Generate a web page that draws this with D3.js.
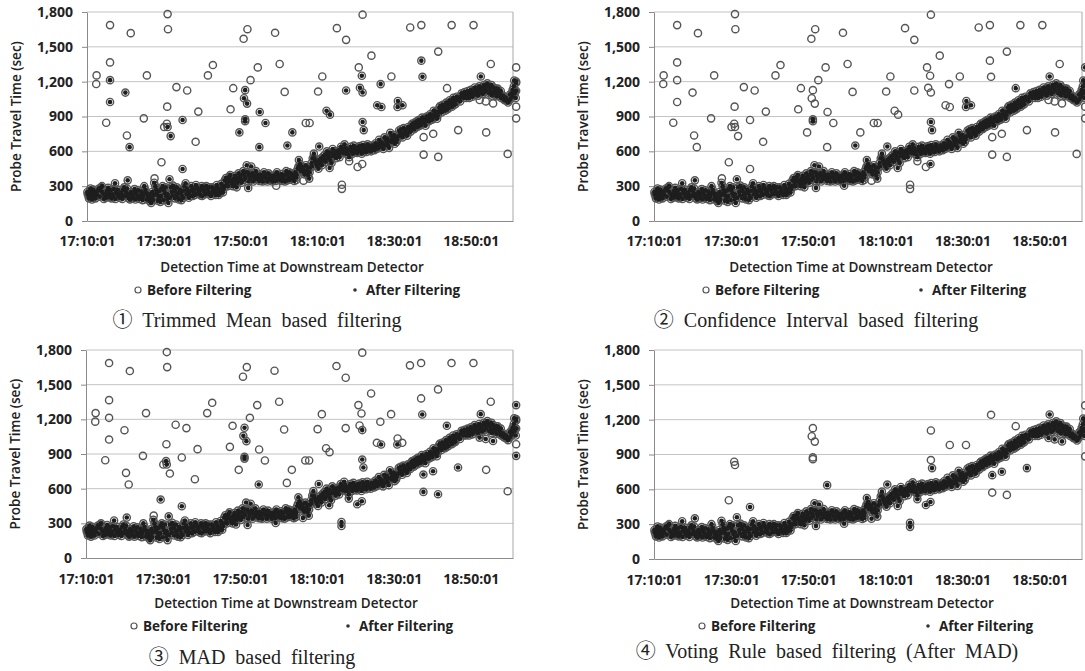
<!DOCTYPE html>
<html>
<head>
<meta charset="utf-8">
<script src="https://cdn.jsdelivr.net/npm/d3@7"></script>
<style>
body { margin: 0; background: #fff; }
text { font-family: "Open Sans", sans-serif; fill: #222; }
</style>
</head>
<body>
<svg id="main"></svg>
<script>
// x values are minutes after 17:10:01, y values are travel time in seconds
var xTickLabels = ["17:10:01", "17:30:01", "17:50:01", "18:10:01", "18:30:01", "18:50:01"];
var yTicks = [0, 300, 600, 900, 1200, 1500, 1800];
var xStart = "17:10:01", xEnd = "19:01:00";

// dense band of probe readings, kept by every filter
var band = [
  [0.2,230],[0.4,215],[0.6,245],[0.8,260],[1.0,225],[1.2,205],[1.4,240],[1.6,270],[1.8,235],[2.0,210],[2.3,250],[2.6,225],
  [3.1,280],[3.4,265],[3.7,290],[4.0,250],[4.3,235],[4.6,215],[4.9,200],[5.2,260],[5.5,285],[5.8,240],[6.1,220],[6.4,195],[6.7,230],[7.0,275],[7.3,325],
  [7.6,250],[7.9,230],[8.2,215],[8.5,200],[8.8,245],[9.1,225],[9.4,270],
  [9.7,290],[10.0,260],[10.3,240],[10.6,215],[10.9,195],[11.2,185],[10.6,350],[11.5,250],[11.8,225],[12.1,200],[12.4,275],
  [12.8,240],[13.1,220],[13.4,205],[13.7,190],[14.0,255],[14.3,230],[14.6,210],[14.9,300],[15.2,270],[15.5,240],[15.8,215],[16.1,195],[16.4,170],[16.7,155],[17.0,250],[17.3,225],
  [17.5,330],[17.8,300],[18.0,270],[18.2,245],[18.5,220],[18.8,195],[19.1,165],[19.4,280],[19.7,300],[20.0,265],[20.3,240],[20.6,215],[20.9,185],[21.2,155],[21.5,360],[21.8,290],[22.1,250],
  [22.4,305],[22.7,280],[23.0,255],[23.3,230],[23.6,205],[23.9,185],[24.2,270],[24.5,245],[24.8,215],[25.1,200],[25.4,300],[25.7,325],[26.0,280],
  [26.3,255],[26.6,235],[26.9,215],[27.2,300],[27.5,270],[27.8,250],[28.1,225],[28.4,310],[28.7,285],[29.0,260],[29.3,240],[29.6,220],[29.9,300],[30.2,280],[30.5,255],[30.8,230],
  [31.1,300],[31.4,275],[31.7,250],[32.0,230],[32.3,215],[32.6,290],[32.9,265],[33.2,245],[33.5,225],[33.8,310],[34.1,285],[34.4,260],[34.7,240],[35.0,320],[35.3,300],[35.6,275],[35.9,350],[36.2,370],
  [36.5,330],[36.8,355],[37.1,380],[37.4,345],[37.7,320],[38.0,300],[38.3,365],[38.6,390],[38.9,350],[39.0,290],[39.2,330],[39.5,410],[39.8,380],
  [40.1,360],[40.4,400],[40.7,430],[41.0,390],[41.3,370],[41.6,480],[41.9,420],[42.0,285],[42.2,395],[42.5,365],[42.8,470],[43.1,410],[43.4,385],[43.7,360],[44.0,430],[44.3,400],[44.6,375],[44.9,345],
  [45.2,400],[45.5,370],[45.8,340],[46.1,420],[46.4,390],[46.7,365],[47.0,340],[47.3,410],[47.6,380],
  [48.0,360],[48.3,340],[48.6,390],[48.9,365],[49.2,345],[49.5,420],[49.8,395],[50.1,370],[50.4,350],[50.7,405],[51.0,380],[51.3,360],[51.6,340],[51.9,430],[52.2,400],[52.5,375],[52.8,355],
  [53.1,410],[53.4,385],[53.7,365],[54.0,345],[54.3,420],[54.6,395],[54.9,450],[55.2,525],[55.5,490],[55.8,470],[56.1,445],[56.4,420],[56.7,400],[57.0,480],[57.3,430],[57.6,395],[57.9,365],
  [58.2,460],[58.5,500],[58.8,540],[59.1,580],[59.4,520],[59.7,490],[60.0,470],[60.3,450],[60.6,530],[60.9,500],[61.2,480],
  [61.6,560],[61.9,530],[62.2,510],[62.5,600],[62.8,570],[63.1,545],[63.4,520],[63.7,500],[64.0,620],[64.3,590],[64.6,560],[64.9,540],[65.2,600],[65.5,575],[65.8,550],
  [66.2,640],[66.5,610],[66.8,585],[67.1,660],[67.4,630],[67.7,600],[68.0,575],[68.3,550],[68.6,620],[68.9,600],[69.2,580],[69.5,650],[69.8,625],[70.1,605],[70.4,585],
  [70.7,640],[71.0,620],[71.3,600],[71.6,580],[71.9,655],[72.2,635],[72.5,615],[72.8,595],[73.1,660],[73.4,640],[73.7,620],[74.0,600],[74.3,650],[74.6,630],[74.9,610],[75.2,670],[75.5,645],[75.8,625],[76.1,700],
  [76.6,680],[76.9,650],[77.2,620],[77.5,720],[77.8,700],[78.1,680],[78.4,655],[78.7,630],[79.0,760],[79.3,735],[79.6,710],[79.9,690],[80.2,665],[80.5,720],[80.8,700],
  [81.3,780],[81.6,760],[81.9,740],[82.2,720],[82.5,800],[82.8,775],[83.1,755],[83.4,735],[83.7,810],[84.0,790],[84.3,770],
  [84.6,830],[84.9,810],[85.2,790],[85.5,850],[85.8,830],[86.1,810],[86.4,870],[86.7,845],[87.0,825],[87.3,890],[87.6,865],[87.9,845],[88.2,820],
  [88.5,900],[88.8,880],[89.1,860],[89.4,920],[89.7,895],[90.0,875],[90.3,950],[90.6,925],[90.9,900],[91.2,880],[91.5,940],
  [91.8,980],[92.1,955],[92.4,935],[92.7,1000],[93.0,975],[93.3,950],[93.6,1020],[93.9,995],[94.2,970],[94.5,1040],[94.8,1010],[95.1,985],[95.4,1060],[95.7,1030],[96.0,1005],[96.3,1070],[96.6,1045],
  [97.0,1050],[97.4,1070],[97.8,1085],[98.2,1060],[98.6,1090],[99.0,1075],[99.4,1100],[99.8,1085],[100.2,1110],[100.6,1090],
  [101.0,1150],[101.3,1130],[101.6,1110],[101.9,1080],[102.2,1160],[102.5,1135],[102.8,1115],[103.1,1095],[103.4,1170],[103.7,1145],[104.0,1125],[104.3,1185],
  [104.6,1160],[104.9,1140],[105.2,1110],[105.5,1080],[105.8,1150],[106.1,1130],[106.4,1105],[106.7,1075],[107.0,1140],[107.3,1115],[107.6,1090],[107.9,1060],
  [108.2,1070],[108.5,1050],[108.8,1040],[109.1,1060],[109.4,1035],[109.7,1020],[110.0,1040],
  [110.3,1050],[110.6,1100],[110.9,1130],[111.2,1160],[111.5,1120],[111.8,1190],[111.3,1210]
];

// second pass of band readings that thicken the cloud
var band2 = [
  [0.1,250],[0.5,195],[0.9,280],[1.3,185],[1.7,215],[2.2,195],[2.8,260],[3.3,210],[3.9,300],[4.4,190],[5.0,230],[5.6,205],
  [6.2,265],[6.9,205],[7.4,190],[8.0,270],[8.6,235],[9.2,190],[9.9,215],[10.4,280],[11.0,230],[11.6,195],[12.2,240],
  [12.6,185],[13.3,265],[13.9,215],[14.5,180],[15.0,240],[15.6,185],[16.2,230],[16.9,205],[17.2,180],[17.9,230],[18.4,175],
  [18.9,260],[19.3,215],[19.9,180],[20.5,290],[21.0,230],[21.6,200],[22.3,220],[22.9,195],[23.4,290],[24.0,240],[24.6,180],
  [25.2,260],[25.9,230],[26.5,200],[27.0,260],[27.6,215],[28.2,280],[28.9,235],[29.5,270],[30.0,215],[30.6,290],
  [31.2,235],[31.9,290],[32.5,240],[33.1,280],[33.7,250],[34.3,225],[34.9,270],[35.4,245],[36.0,300],[36.7,300],[37.3,395],
  [37.9,350],[38.5,320],[39.1,375],[39.7,345],[40.3,330],[40.9,355],[41.4,420],[42.1,340],[42.7,400],[43.3,340],[43.9,390],[44.5,360],
  [45.4,345],[46.0,380],[46.6,400],[47.2,355],[47.9,390],[48.5,350],[49.1,400],[49.7,360],[50.3,385],[50.9,345],[51.5,395],
  [52.1,350],[52.7,420],[53.3,360],[53.9,395],[54.5,375],[55.1,470],[55.7,430],[56.3,460],[56.9,430],[57.5,460],[58.0,420],
  [58.6,470],[59.2,540],[59.8,510],[60.4,490],[61.0,540],[61.5,520],[62.0,570],[62.7,540],[63.3,590],[63.9,560],[64.5,600],
  [65.1,570],[65.7,610],[66.3,590],[66.9,620],[67.5,580],[68.1,610],[68.7,640],[69.3,610],[69.9,590],[70.5,620],[71.1,645],
  [71.7,610],[72.3,600],[72.9,640],[73.5,610],[74.1,630],[74.7,650],[75.3,620],[75.9,660],[76.4,640],
  [77.0,670],[77.6,650],[78.2,710],[78.8,690],[79.4,680],[80.0,740],[80.6,680],[81.1,730],[81.8,790],[82.4,750],[83.0,790],
  [83.6,760],[84.2,800],[84.8,840],[85.4,800],[86.0,860],[86.6,820],[87.2,860],[87.8,880],[88.4,860],[89.0,900],[89.6,870],
  [90.2,910],[90.8,940],[91.4,910],[92.0,990],[92.6,960],[93.2,1000],[93.8,960],[94.4,1010],[95.0,1030],[95.6,1000],[96.2,1040],[96.8,1060],
  [97.2,1030],[97.6,1100],[98.0,1080],[98.4,1110],[98.8,1060],[99.2,1120],[99.6,1060],[100.0,1130],[100.4,1070],[100.8,1120],
  [101.2,1090],[101.8,1140],[102.4,1100],[103.0,1150],[103.6,1110],[104.2,1160],[104.8,1100],[105.4,1170],[106.0,1100],
  [106.6,1140],[107.2,1080],[107.8,1120],[108.4,1080],[109.0,1060],[109.6,1040],[110.2,1090],[110.8,1070],[111.4,1100],[111.7,1060]
];

// scattered readings that the filters treat differently
var outliers = [
  [2.5,1254],[2.4,1180],[5.0,846],[6.0,1687],[6.0,1366],[6.0,1213],[6.0,1025],[10.0,1106],[10.4,737],[11.1,636],
  [11.4,1618],[15.6,1254],[14.8,884],[21.0,1782],[21.1,1652],[20.9,985],[20.8,838],[20.1,809],[21.0,809],[21.8,731],
  [23.3,1153],[26.1,1124],[24.9,870],[29.0,942],[28.3,682],[31.5,1254],[32.8,1343],[19.4,506],[24.9,448],[17.6,367],
  [37.4,962],[38.1,1144],[39.7,763],[40.8,1569],[41.8,1652],[41.2,1127],[40.9,1057],[41.7,1011],[41.2,875],[41.2,860],
  [42.6,1213],[44.5,1323],[45.0,939],[44.9,636],
  [46.5,844],[49.0,1621],[50.2,1352],[51.5,1112],[53.5,763],[52.2,650],[57.0,844],[58.0,844],[61.3,1245],[60.2,1115],
  [62.4,950],[63.3,916],[60.5,641],[65.1,1661],[67.5,1560],[67.5,1124],[71.8,1777],[70.8,1323],[71.6,1251],[71.1,1147],
  [71.8,1107],[71.8,852],[72.1,783],[74.1,1424],[76.5,1179],[75.6,997],[76.7,982],[79.3,1245],[81.0,1034],[80.9,982],
  [82.2,997],[84.2,1667],[87.1,1687],[87.1,1381],[87.4,1242],[91.5,1459],[95.0,1687],[100.7,1687],[93.8,1144],[102.6,1245],
  [105.2,1352],[111.8,1323],[111.8,1202],[111.8,1121],[111.8,985],[111.8,884],[109.6,578],[104.0,763],[96.7,783],[87.7,572],
  [91.5,552],[90.2,751],[87.7,722],[66.4,312],[66.4,277],[49.3,303],[56.4,347],[70.5,465],[71.7,491],[68.3,514],
  [63.2,456],[102.3,1042],[103.9,1030],[105.8,1013],[54.5,353]
];

// 1 = outlier kept after filtering, one flag per outlier above
var keepTM = [
  0,0,0,0,0,1,1,1,0,1, 0,0,0,0,0,0,0,0,1,1, 0,0,1,0,0,0,0,0,1,0, 0,0,1,0,0,1,1,1,1,1, 0,0,1,1,
  1,0,0,0,1,1,0,0,0,0, 1,1,1,0,0,1,0,0,1,1, 1,1,1,0,1,1,1,0,1,1, 1,0,0,1,1,0,0,0,0,1,
  0,0,1,1,0,0,0,0,0,0, 0,0,0,0,0,0,0,0,0,0, 1,0,0,0,0
];
var keepCI = [
  0,0,0,0,0,0,0,0,0,0, 0,0,0,0,0,0,0,0,0,0, 0,0,0,0,0,0,0,0,0,0, 0,0,0,0,0,0,0,0,1,1, 0,0,0,0,
  0,0,0,0,0,1,0,0,0,0, 0,0,1,0,0,0,0,0,0,0, 0,1,1,0,0,0,0,0,1,1, 1,0,0,0,0,0,0,0,1,1,
  0,1,1,1,0,0,0,0,0,0, 0,0,0,0,0,1,0,0,1,0, 1,0,0,0,0
];
var keepMAD = [
  0,0,0,0,0,0,0,0,0,0, 0,0,0,0,0,0,1,0,1,0, 0,0,0,0,0,0,0,1,1,0, 0,0,0,0,0,1,1,1,1,1, 0,0,0,1,
  0,0,0,0,0,0,0,0,0,0, 0,0,1,0,0,0,0,0,0,0, 1,1,1,0,0,0,1,0,0,1, 0,0,0,0,1,0,0,0,1,1,
  0,1,1,1,0,1,0,0,1,1, 1,1,1,1,1,1,1,1,1,1, 1,1,1,1,1
];
var keepVote = [
  0,0,0,0,0,0,0,0,0,0, 0,0,0,0,0,0,0,0,0,0, 0,0,0,0,0,0,0,0,1,0, 0,0,0,0,0,0,0,0,0,0, 0,0,0,1,
  0,0,0,0,0,0,0,0,0,0, 0,0,1,0,0,0,0,0,0,0, 0,0,1,0,0,0,0,0,0,0, 0,0,0,0,0,0,0,0,0,1,
  0,0,1,1,0,0,0,0,1,0, 0,1,1,1,1,1,1,1,1,1, 1,1,1,1,1
];

var captions = [
  "\u2460 Trimmed Mean based filtering",
  "\u2461 Confidence Interval based filtering",
  "\u2462 MAD based filtering",
  "\u2463 Voting Rule based filtering (After MAD)"
];

var w = 1085, h = 671;
var svg = d3.select("#main").attr("width", w).attr("height", h);
svg.append("rect").attr("width", w).attr("height", h).attr("fill", "#fff");

var parseT = d3.timeParse("%H:%M:%S");
var fmtT = d3.timeFormat("%H:%M:%S");
var t0 = parseT(xStart);
function toDate(m) { return new Date(+t0 + m * 60000); }

var allOnes = outliers.map(function() { return 1; });
var bandAll = band.concat(band2);

var panels = [
  { left: 87, right: 513, top: 12, bottom: 221, tickY: 241, titleX: 292, titleY: 267, legY: 290, legA: 51, legB: 268, capX: 257, capY: 320, before: allOnes, after: keepTM },
  { left: 654, right: 1082, top: 12, bottom: 221, tickY: 241, titleX: 861, titleY: 267, legY: 290, legA: 52, legB: 267, capX: 816, capY: 320, before: allOnes, after: keepCI },
  { left: 86, right: 513, top: 350, bottom: 558, tickY: 579, titleX: 286, titleY: 603, legY: 626, legA: 48, legB: 262, capX: 252, capY: 657, before: allOnes, after: keepMAD },
  { left: 654, right: 1082, top: 350, bottom: 559, tickY: 580, titleX: 862, titleY: 603, legY: 626, legA: 48, legB: 274, capX: 827, capY: 651, before: keepMAD, after: keepVote }
];

panels.forEach(function(p, k) {
  var g = svg.append("g");

  var xScale = d3.scaleTime()
    .domain([parseT(xStart), parseT(xEnd)])
    .range([p.left, p.right]);
  var yScale = d3.scaleLinear()
    .domain([0, 1800])
    .range([p.bottom, p.top]);

  // gridlines
  g.selectAll(".grid")
    .data(yTicks.filter(function(d) { return d > 0; }))
    .enter()
    .append("line")
    .attr("x1", p.left).attr("x2", p.right)
    .attr("y1", function(d) { return yScale(d); })
    .attr("y2", function(d) { return yScale(d); })
    .attr("stroke", "#c4c4c4")
    .attr("stroke-width", 1);

  g.append("line")
    .attr("x1", p.right).attr("x2", p.right)
    .attr("y1", p.top).attr("y2", p.bottom)
    .attr("stroke", "#a8a8a8");

  var xAxis = d3.axisBottom(xScale)
    .tickValues(xTickLabels.map(parseT))
    .tickFormat(fmtT)
    .tickSize(0)
    .tickSizeOuter(0);
  var yAxis = d3.axisLeft(yScale)
    .tickValues(yTicks)
    .tickFormat(d3.format(","))
    .tickSize(5)
    .tickSizeOuter(0)
    .tickPadding(9);

  var gx = g.append("g")
    .attr("transform", "translate(0," + p.bottom + ")")
    .call(xAxis);
  gx.select(".domain").attr("stroke", "#8a8a8a");
  gx.selectAll("text")
    .attr("y", p.tickY - p.bottom)
    .attr("dy", "0.35em")
    .style("font-family", "'Open Sans', sans-serif")
    .style("font-size", "14px")
    .style("font-weight", "bold")
    .attr("fill", "#222");

  var gy = g.append("g")
    .attr("transform", "translate(" + p.left + ",0)")
    .call(yAxis);
  gy.select(".domain").attr("stroke", "#8a8a8a");
  gy.selectAll(".tick line").attr("stroke", "#8a8a8a");
  gy.selectAll("text")
    .style("font-family", "'Open Sans', sans-serif")
    .style("font-size", "14px")
    .style("font-weight", "bold")
    .attr("fill", "#222");

  // axis titles
  g.append("text")
    .attr("transform", "translate(" + (p.left - 71) + "," + ((p.top + p.bottom) / 2) + ") rotate(-90)")
    .attr("text-anchor", "middle")
    .attr("dy", "0.35em")
    .style("font-size", "13.5px")
    .style("font-weight", "600")
    .text("Probe Travel Time (sec)");

  g.append("text")
    .attr("x", p.titleX).attr("y", p.titleY)
    .attr("text-anchor", "middle")
    .attr("dy", "0.35em")
    .style("font-size", "13.5px")
    .style("font-weight", "600")
    .text("Detection Time at Downstream Detector");

  var beforePts = bandAll.concat(outliers.filter(function(d, i) { return p.before[i] === 1; }));
  var afterPts = bandAll.concat(outliers.filter(function(d, i) { return p.after[i] === 1; }));

  // before filtering: open rings
  g.selectAll(".before")
    .data(beforePts)
    .enter()
    .append("circle")
    .attr("cx", function(d) { return xScale(toDate(d[0])); })
    .attr("cy", function(d) { return yScale(d[1]); })
    .attr("r", 3.6)
    .attr("fill", "none")
    .attr("stroke", "#555")
    .attr("stroke-width", 1.4);

  // after filtering: dark dots
  g.selectAll(".after")
    .data(afterPts)
    .enter()
    .append("circle")
    .attr("cx", function(d) { return xScale(toDate(d[0])); })
    .attr("cy", function(d) { return yScale(d[1]); })
    .attr("r", 2.3)
    .attr("fill", "#1e1e1e");

  // legend
  g.append("circle")
    .attr("cx", p.left + p.legA).attr("cy", p.legY)
    .attr("r", 3)
    .attr("fill", "none")
    .attr("stroke", "#555")
    .attr("stroke-width", 1.2);
  g.append("text")
    .attr("x", p.left + p.legA + 9).attr("y", p.legY)
    .attr("dy", "0.35em")
    .style("font-size", "13.5px")
    .style("font-weight", "bold")
    .text("Before Filtering");
  g.append("circle")
    .attr("cx", p.left + p.legB).attr("cy", p.legY)
    .attr("r", 1.8)
    .attr("fill", "#333");
  g.append("text")
    .attr("x", p.left + p.legB + 11).attr("y", p.legY)
    .attr("dy", "0.35em")
    .style("font-size", "13.5px")
    .style("font-weight", "bold")
    .text("After Filtering");

  // caption
  g.append("text")
    .attr("x", p.capX).attr("y", p.capY)
    .attr("text-anchor", "middle")
    .attr("dy", "0.35em")
    .style("font-family", "'Liberation Serif', 'Noto Sans CJK KR', serif")
    .style("font-size", "20px")
    .style("word-spacing", "5px")
    .attr("fill", "#111")
    .text(captions[k]);
});
</script>
</body>
</html>
